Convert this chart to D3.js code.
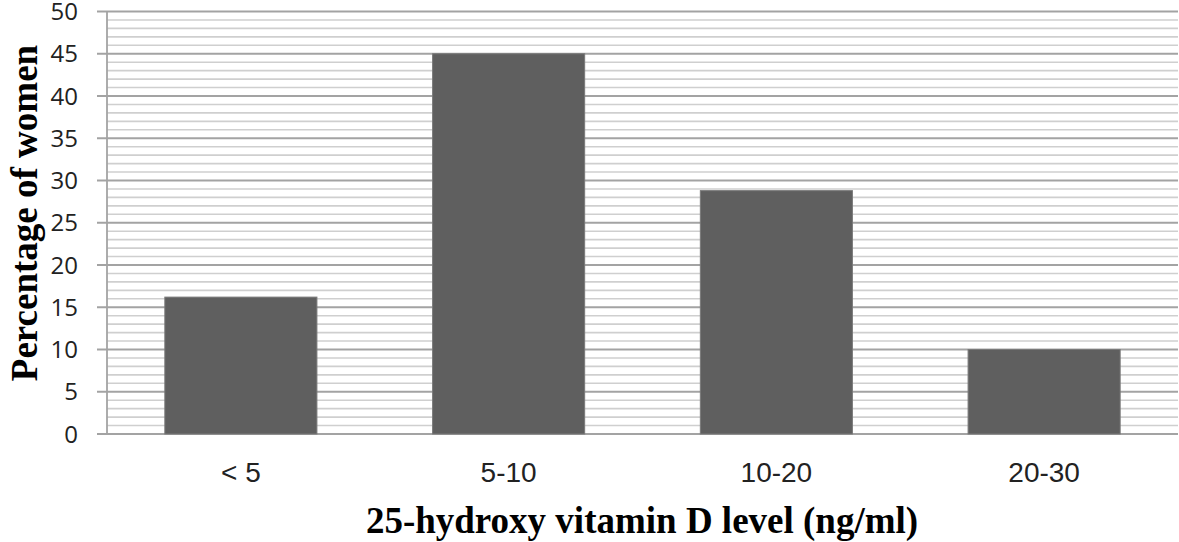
<!DOCTYPE html>
<html><head><meta charset="utf-8">
<script src="https://cdn.jsdelivr.net/npm/d3@7"></script>
<style>body{margin:0;background:#fff}svg{display:block}</style>
</head><body>
<svg id="c" width="1179" height="542"></svg>
<script>
const categories = ["< 5", "5-10", "10-20", "20-30"];
const values = [16.2, 45.0, 28.8, 10.0];
const yTicks = [0, 5, 10, 15, 20, 25, 30, 35, 40, 45, 50];
const xTitle = "25-hydroxy vitamin D level (ng/ml)";
const yTitle = "Percentage of women";

const svg = d3.select("#c");
const L = 107, R = 1178, T = 11.5, B = 434;
const x = d3.scaleBand().domain(categories).range([L, R]).paddingInner(0.432).paddingOuter(0.216);
const y = d3.scaleLinear().domain([0, 50]).range([B, T]);

// minor gridlines
svg.append("g").selectAll("line").data(d3.range(0, 51).filter(v => v % 5 !== 0)).join("line")
  .attr("x1", L).attr("x2", R).attr("y1", d => y(d)).attr("y2", d => y(d))
  .attr("stroke", "#cfcfcf").attr("stroke-width", 1.6);
// major gridlines
svg.append("g").selectAll("line").data(yTicks).join("line")
  .attr("x1", L - 10).attr("x2", R).attr("y1", d => y(d)).attr("y2", d => y(d))
  .attr("stroke", "#a3a3a3").attr("stroke-width", 1.8);
// y axis line
svg.append("line").attr("x1", L).attr("x2", L).attr("y1", T).attr("y2", B)
  .attr("stroke", "#a3a3a3").attr("stroke-width", 1.8);

// bars
svg.append("g").selectAll("rect").data(values).join("rect")
  .attr("x", (d, i) => x(categories[i])).attr("width", x.bandwidth())
  .attr("y", d => y(d)).attr("height", d => B - y(d))
  .attr("fill", "#5f5f5f").attr("stroke", "#7a7a7a").attr("stroke-width", 1);

// y tick labels
svg.append("g").selectAll("text").data(yTicks).join("text")
  .attr("x", 78).attr("y", d => y(d)).attr("dy", "0.36em")
  .attr("text-anchor", "end").attr("font-family", "Open Sans, Liberation Sans, sans-serif")
  .attr("font-size", 24).attr("fill", "#222").text(d => d);

// x tick labels
svg.append("g").selectAll("text").data(categories).join("text")
  .attr("x", d => x(d) + x.bandwidth() / 2).attr("y", 482)
  .attr("text-anchor", "middle").attr("font-family", "Liberation Sans, Arial, sans-serif")
  .attr("font-size", 28).attr("fill", "#222").text(d => d);

// axis titles
svg.append("text").attr("x", 642).attr("y", 533)
  .attr("text-anchor", "middle").attr("font-family", "Liberation Serif, serif")
  .attr("font-weight", "bold").attr("font-size", 37).attr("fill", "#000").text(xTitle);
svg.append("text").attr("transform", "translate(37,213) rotate(-90)")
  .attr("text-anchor", "middle").attr("font-family", "Liberation Serif, serif")
  .attr("font-weight", "bold").attr("font-size", 37).attr("fill", "#000").text(yTitle);
</script>
</body></html>
